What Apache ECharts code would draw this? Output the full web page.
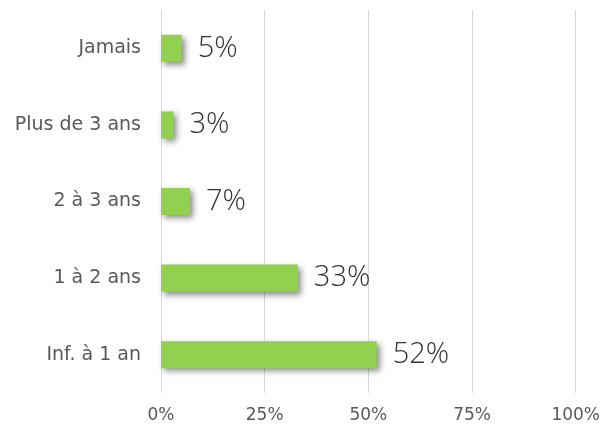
<!DOCTYPE html>
<html>
<head>
<meta charset="utf-8">
<script src="https://cdn.jsdelivr.net/npm/echarts@6/dist/echarts.min.js"></script>
<style>
  html, body { margin: 0; padding: 0; background: #fff; }
  #chart { width: 603px; height: 432px; }
</style>
</head>
<body>
<div id="chart"></div>
<script>
// Ancienneté : part des répondants par tranche
const categories = ['Inf. à 1 an', '1 à 2 ans', '2 à 3 ans', 'Plus de 3 ans', 'Jamais'];
const values = [52, 33, 7, 3, 5];
const xTicks = [0, 25, 50, 75, 100];

const textFont = '"DejaVu Sans", sans-serif';
const valueFont = '"Open Sans", "DejaVu Sans", sans-serif';
const chart = echarts.init(document.getElementById('chart'));

chart.setOption({
  animation: false,
  grid: { left: 161, right: 26, top: 10, bottom: 39 },
  xAxis: {
    type: 'value',
    min: xTicks[0],
    max: xTicks[xTicks.length - 1],
    interval: xTicks[1] - xTicks[0],
    axisLine: { show: false },
    axisTick: { show: false },
    splitLine: { lineStyle: { color: '#d9d9d9', width: 1 } },
    axisLabel: {
      formatter: v => v + '%',
      color: '#595959',
      fontSize: 17,
      fontFamily: textFont,
      margin: 14
    }
  },
  yAxis: {
    type: 'category',
    data: categories,
    axisLine: { show: false },
    axisTick: { show: false },
    axisLabel: {
      color: '#595959',
      fontSize: 19,
      fontFamily: textFont,
      margin: 20
    }
  },
  series: [{
    type: 'bar',
    data: values,
    barWidth: 27,
    itemStyle: {
      color: '#92d050',
      shadowColor: 'rgba(0,0,0,0.45)',
      shadowBlur: 6,
      shadowOffsetX: 3,
      shadowOffsetY: 3
    },
    label: {
      show: true,
      position: 'right',
      distance: 16,
      formatter: p => p.value + '%',
      color: '#333333',
      fontSize: 29,
      fontWeight: 300,
      fontFamily: valueFont
    }
  }]
});
</script>
</body>
</html>
